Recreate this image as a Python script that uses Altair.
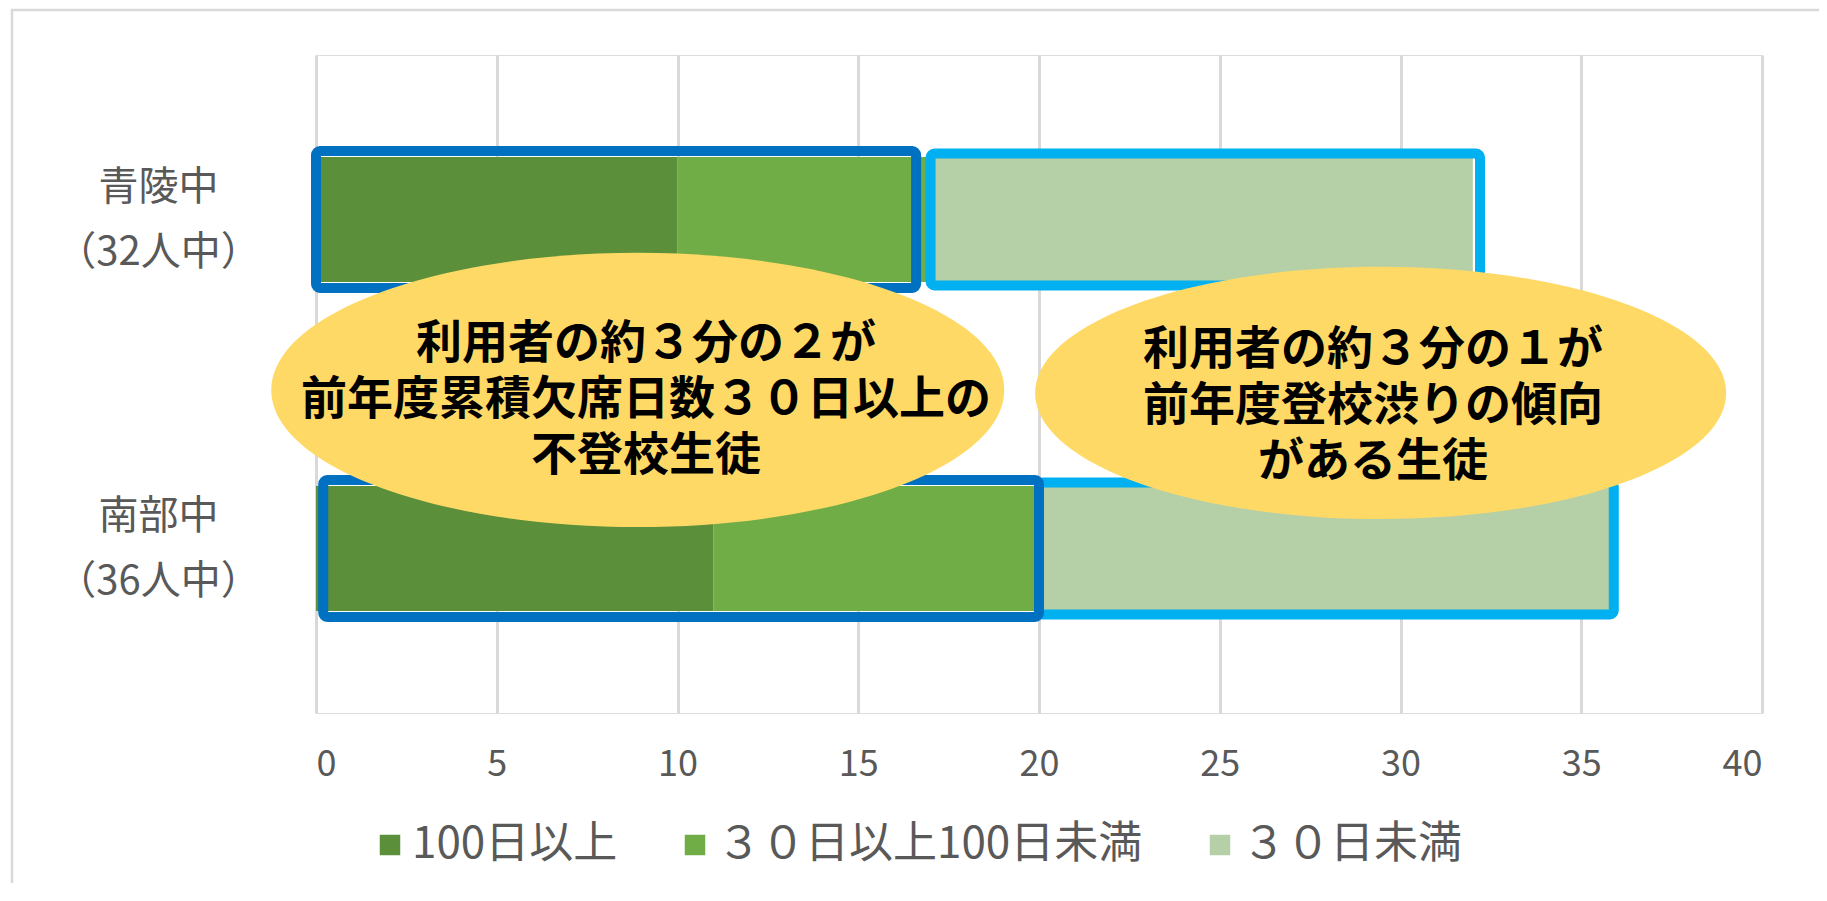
import altair as alt
import pandas as pd

# ---- data -------------------------------------------------------------
schools = ["青陵中|（32人中）", "南部中|（36人中）"]
categories = ["100日以上", "３０日以上100日未満", "３０日未満"]
seiryo_values = [10, 7, 15]      # total 32
nanbu_values = [11, 9, 16]       # total 36
colors = ["#5B8F3A", "#70AD47", "#B5CFA7"]
x_ticks = [0, 5, 10, 15, 20, 25, 30, 35, 40]

# highlight boxes (axis units): dark = 30日以上, light = 30日未満
dark_box_start = [0.0, 0.2]
dark_box_end = [16.6, 20.0]
light_box_start = [17.0, 20.0]
light_box_end = [32.2, 35.9]

# callout bubbles (x in axis units, y in row units: 0 = bottom, 2 = top)
bubble_lines = [
    "利用者の約３分の２が\n前年度累積欠席日数３０日以上の\n不登校生徒",
    "利用者の約３分の１が\n前年度登校渋りの傾向\nがある生徒",
]
bubble_x = [8.9, 29.45]
bubble_y = [0.982, 0.973]
text_x = [9.13, 29.24]
text_y = [1.122, 1.103]   # first line of each callout

# ---- tables -----------------------------------------------------------
rows = []
for school, vals in zip(schools, [seiryo_values, nanbu_values]):
    for i, (cat, v) in enumerate(zip(categories, vals)):
        rows.append({"school": school, "category": cat, "value": v, "ord": i})
bars_df = pd.DataFrame(rows)

dark_df = pd.DataFrame({"school": schools, "x0": dark_box_start, "x1": dark_box_end})
light_df = pd.DataFrame({"school": schools, "x0": light_box_start, "x1": light_box_end})

FONT = "Noto Sans CJK JP"
GRAY = "#595959"

y_band = alt.Scale(domain=schools, paddingInner=0.5, paddingOuter=0.25)
x_scale = alt.Scale(domain=[0, 40], nice=False)

bars = alt.Chart(bars_df).mark_bar(size=125).encode(
    x=alt.X("value:Q", stack="zero", scale=x_scale, title=None,
            axis=alt.Axis(values=x_ticks, grid=True, gridColor="#D9D9D9", gridWidth=3,
                          domain=False, ticks=False, tickSize=0,
                          labelFont=FONT, labelFontSize=36, labelColor=GRAY,
                          labelPadding=34)),
    y=alt.Y("school:N", scale=y_band, sort=schools, title=None,
            axis=alt.Axis(grid=False, domain=False, ticks=False, tickSize=0,
                          labelExpr="split(datum.label, '|')",
                          labelFont=FONT, labelFontSize=40, labelColor=GRAY,
                          labelAlign="center", labelBaseline="middle",
                          labelLineHeight=65, labelPadding=158,
                          labelOffset=-32, labelLimit=500)),
    color=alt.Color("category:N", scale=alt.Scale(domain=categories, range=colors),
                    legend=alt.Legend(title=None, orient="none", direction="horizontal",
                                      legendX=52, legendY=768, padding=0,
                                      symbolType="square", symbolSize=420,
                                      symbolStrokeWidth=0, labelFont=FONT,
                                      labelFontSize=44, labelColor=GRAY,
                                      labelOffset=0, columnPadding=55,
                                      labelLimit=1000)),
    order=alt.Order("ord:Q"),
)

light_boxes = alt.Chart(light_df).mark_bar(
    size=132, fillOpacity=0, stroke="#00B0F0", strokeWidth=10, cornerRadius=4
).encode(
    x=alt.X("x0:Q", scale=x_scale),
    x2="x1:Q",
    y=alt.Y("school:N", scale=y_band, sort=schools),
)

dark_boxes = alt.Chart(dark_df).mark_bar(
    size=137, fillOpacity=0, stroke="#0070C0", strokeWidth=10, cornerRadius=4
).encode(
    x=alt.X("x0:Q", scale=x_scale),
    x2="x1:Q",
    y=alt.Y("school:N", scale=y_band, sort=schools),
)

base = alt.layer(bars, light_boxes, dark_boxes)

y_pos = alt.Scale(domain=[0, 2], nice=False, zero=False)


def ellipse_path(r):
    return f"M -1 0 A 1 {r} 0 1 1 1 0 A 1 {r} 0 1 1 -1 0 Z"


bubble_widths = [733, 691]
bubble_ratios = [0.374, 0.365]
ellipse_layers = []
for i in range(2):
    df = pd.DataFrame({"x": [bubble_x[i]], "pos": [bubble_y[i]]})
    ellipse_layers.append(
        alt.Chart(df).mark_point(
            shape=ellipse_path(bubble_ratios[i]), size=bubble_widths[i] ** 2,
            filled=True, fill="#FFD966", opacity=1, fillOpacity=1, strokeWidth=0
        ).encode(
            x=alt.X("x:Q", scale=x_scale),
            y=alt.Y("pos:Q", scale=y_pos, axis=None),
        )
    )

text_df = pd.DataFrame({"x": text_x, "pos": text_y, "label": bubble_lines})
texts = alt.Chart(text_df).mark_text(
    font=FONT, fontWeight="bold", fontSize=46, lineBreak="\n", lineHeight=56,
    align="center", baseline="middle", color="#000000"
).encode(
    x=alt.X("x:Q", scale=x_scale),
    y=alt.Y("pos:Q", scale=y_pos, axis=None),
    text="label:N",
)

annot = alt.layer(*ellipse_layers, texts)

frame = alt.Chart(pd.DataFrame({"a": [0]})).mark_rect(
    fillOpacity=0, stroke="#D9D9D9", strokeWidth=2.5
).encode(
    x=alt.value(-304), x2=alt.value(1560), y=alt.value(-45), y2=alt.value(900)
)

chart = alt.layer(frame, base, annot).resolve_scale(y="independent").properties(
    width=1446, height=658,
    autosize=alt.AutoSizeParams(type="none"),
    padding={"left": 308, "top": 47, "right": 57, "bottom": 170},
).configure_view(strokeWidth=0).configure(background="white")

chart.save("out.html", embed_options={"renderer": "svg", "actions": False})
